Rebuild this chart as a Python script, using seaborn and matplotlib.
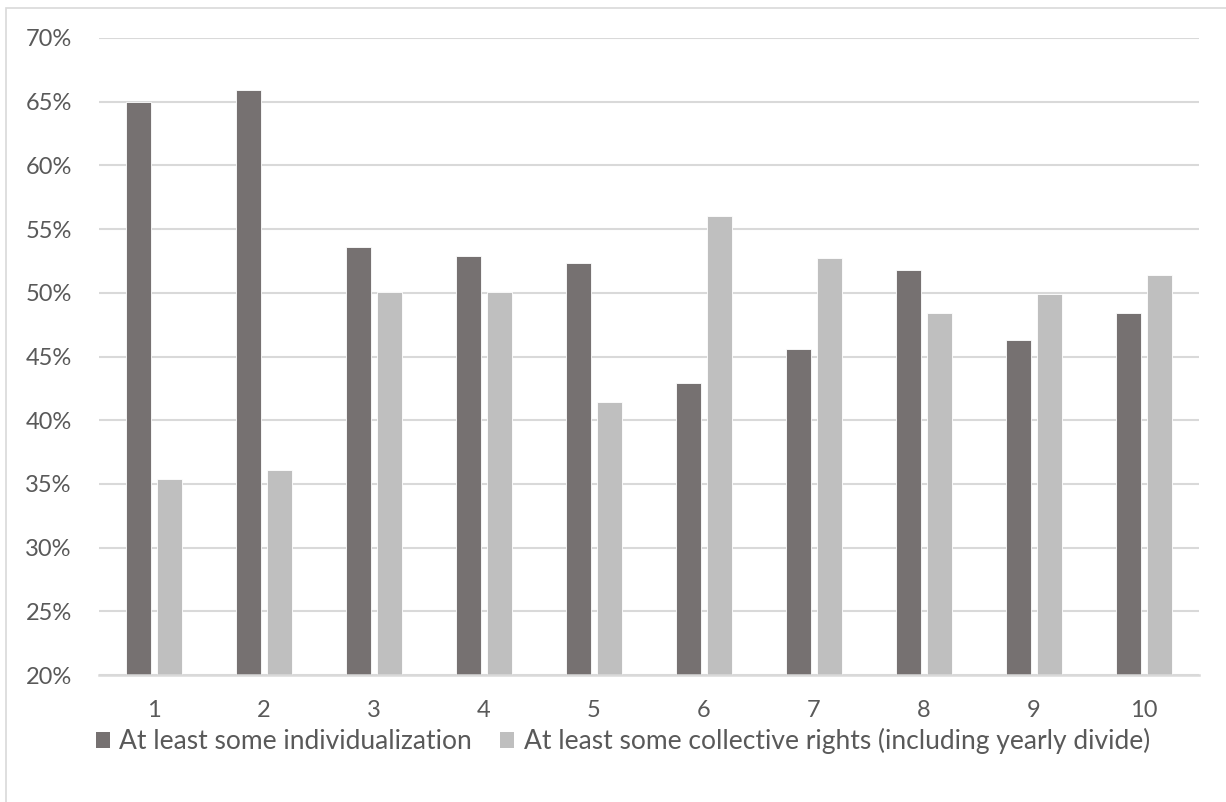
import matplotlib
matplotlib.use("Agg")
import matplotlib.pyplot as plt
from matplotlib.patches import Patch, Rectangle
from matplotlib.ticker import FuncFormatter, MultipleLocator
import pandas as pd
import seaborn as sns

categories = ["1", "2", "3", "4", "5", "6", "7", "8", "9", "10"]
series_names = [
    "At least some individualization",
    "At least some collective rights (including yearly divide)",
]
individualization = [65.0, 65.9, 53.6, 52.9, 52.3, 42.9, 45.6, 51.8, 46.3, 48.4]
collective_rights = [35.4, 36.1, 50.1, 50.05, 41.4, 56.0, 52.7, 48.4, 49.9, 51.4]
colors = ["#767171", "#BFBFBF"]

df = pd.DataFrame({
    "category": categories * 2,
    "series": [series_names[0]] * len(categories) + [series_names[1]] * len(categories),
    "value": individualization + collective_rights,
})

sns.set_theme(style="white")
plt.rcParams["font.family"] = ["Lato", "DejaVu Sans"]
text_color = "#595959"
grid_color = "#D9D9D9"

fig = plt.figure(figsize=(12.26, 8.02), dpi=100)
ax = fig.add_axes([99 / 1226, 1 - 675 / 802, 1100 / 1226, 637 / 802])

sns.barplot(
    data=df, x="category", y="value", hue="series",
    order=categories, hue_order=series_names,
    palette=colors, width=0.564, gap=0.21,
    ax=ax, legend=False, saturation=1,
    edgecolor="white", linewidth=0.6,
)

ax.set_ylim(20, 70)
ax.set_xlim(-0.5, len(categories) - 0.5)
ax.yaxis.set_major_locator(MultipleLocator(5))
ax.yaxis.set_major_formatter(FuncFormatter(lambda v, _: f"{v:.0f}%"))
ax.set_axisbelow(True)
ax.grid(axis="y", color=grid_color, linewidth=1.5)
ax.grid(axis="x", visible=False)
for side in ["left", "right", "top"]:
    ax.spines[side].set_visible(False)
ax.spines["bottom"].set_color(grid_color)
ax.spines["bottom"].set_linewidth(1.8)
ax.tick_params(axis="both", length=0, labelsize=17, labelcolor=text_color)
ax.tick_params(axis="y", pad=19.5)
ax.tick_params(axis="x", pad=18)
ax.set_xlabel("")
ax.set_ylabel("")

handles = [Patch(facecolor=c, edgecolor="none") for c in colors]
fig.legend(
    handles, series_names, loc="center", bbox_to_anchor=(0.508, 1 - 741 / 802),
    ncol=2, frameon=False, fontsize=19, labelcolor=text_color,
    handlelength=0.55, handleheight=0.55, handletextpad=0.35, columnspacing=1.05,
)

# outer chart frame
fig.patches.append(Rectangle((6 / 1226, -0.05), 1.1, 1 - 8 / 802 + 0.05,
                             transform=fig.transFigure, fill=False,
                             edgecolor="#D9D9D9", linewidth=1.2))

fig.savefig("out.png", dpi=100, facecolor="white")
